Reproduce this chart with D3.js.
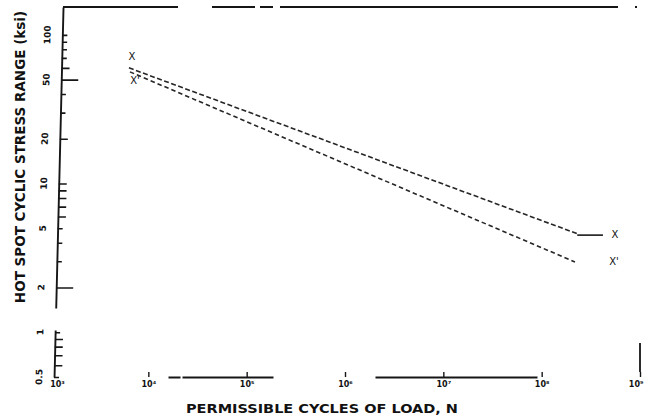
<!DOCTYPE html>
<html><head><meta charset="utf-8">
<script src="https://cdn.jsdelivr.net/npm/d3@7"></script>
<style>
html,body{margin:0;padding:0;background:#fff;}
svg{display:block;}
text{font-family:"DejaVu Sans","DejaVu Sans Condensed",sans-serif;fill:#111;}
</style></head><body>
<svg id="chart" width="645" height="420"></svg>
<script>
// S-N curves: permissible cycles N vs hot spot stress range (ksi)
const curveNames = ["X", "X'"];
const xCurveN = [6.35e3, 2.3e8];
const xCurveS = [60, 4.6];
const xEnduranceN = [2.3e8, 4.2e8];
const xEnduranceS = [4.5, 4.5];
const xPrimeN = [6.5e3, 2.18e8];
const xPrimeS = [56.4, 2.97];
const xTickExponents = [3, 4, 5, 6, 7, 8, 9];
const yTickValues = [100, 90, 80, 70, 60, 50, 40, 30, 20, 10, 9, 8, 7, 6, 5, 4, 3, 2, 1, 0.9, 0.8, 0.7, 0.6, 0.5];
const yTickLabels = ["100", "50", "20", "10", "5", "2", "1", "0.5"];
const xDomain = [1e3, 1e9];
const yDomain = [0.5, 154];

const svg = d3.select("#chart");
const x = d3.scaleLog().domain(xDomain).range([50, 640]);
const y = d3.scaleLog().domain(yDomain).range([377, 7]);
const ink = "#161616";

// frame pieces (scan has gaps)
svg.append("line").attr("x1", 63).attr("x2", x(xDomain[1])).attr("y1", y(yDomain[1])).attr("y2", y(yDomain[1]))
  .attr("stroke", ink).attr("stroke-width", 1.8)
  .attr("stroke-dasharray", "115,34,43,5,13,7,338,17,2,20");
svg.append("line").attr("x1", x(xDomain[1])).attr("x2", x(xDomain[1])).attr("y1", y(yDomain[0])).attr("y2", y(yDomain[1]))
  .attr("stroke", ink).attr("stroke-width", 1.8)
  .attr("stroke-dasharray", "0,5,29,400");

// y axis (slightly skewed like the scan)
const sup = {"0":"\u2070","1":"\u00b9","2":"\u00b2","3":"\u00b3","4":"\u2074","5":"\u2075","6":"\u2076","7":"\u2077","8":"\u2078","9":"\u2079"};
const yAxisG = svg.append("g").attr("transform", "translate(63.2,0) skewX(-1.39)");
yAxisG.call(d3.axisRight(y).tickValues(yTickValues).tickSizeOuter(0).tickFormat(""));
yAxisG.select(".domain").attr("stroke", ink).attr("stroke-width", 1.9).attr("stroke-dasharray", "47,22,400");
const longT = new Set([50, 2]);
const medT = new Set([60, 20, 10, 9, 8, 7, 6, 0.9, 0.8, 0.7, 0.6]);
yAxisG.selectAll(".tick line").attr("stroke", ink).attr("stroke-width", 1.6)
  .attr("x2", d => longT.has(d) ? 17 : medT.has(d) ? 8 : 5);
yAxisG.selectAll(".ylab").data(yTickLabels).enter().append("text")
  .attr("class", "ylab")
  .attr("transform", d => `translate(-15,${y(+d)}) rotate(-90)`)
  .attr("dy", "0.35em").attr("text-anchor", "middle")
  .attr("font-size", 9).attr("font-weight", "bold").text(d => d);

// x axis
const xAxisG = svg.append("g").attr("transform", `translate(0,${y(yDomain[0])})`);
xAxisG.call(d3.axisBottom(x).tickValues(xTickExponents.map(e => Math.pow(10, e)))
  .tickSizeInner(-5).tickSizeOuter(0).tickPadding(4)
  .tickFormat(d => "10" + String(Math.round(Math.log10(d))).split("").map(c => sup[c]).join("")));
xAxisG.select(".domain").attr("stroke", ink).attr("stroke-width", 1.8)
  .attr("stroke-dasharray", "0,118,12,2,91,102,162,300");
xAxisG.selectAll(".tick line").attr("stroke", ink).attr("stroke-width", 1.4);
xAxisG.selectAll(".tick text").attr("font-size", 8).attr("font-weight", "bold").attr("fill", ink)
  .attr("font-family", "DejaVu Sans");
const nT = xTickExponents.length;
xAxisG.selectAll(".tick").filter((d, i) => i === 0).select("line").remove();
xAxisG.selectAll(".tick").filter((d, i) => i === 0).select("text").attr("dx", 7);
xAxisG.selectAll(".tick").filter((d, i) => i === nT - 1).select("text").attr("text-anchor", "end").attr("dx", 3);

// curves
const line = d3.line().x(d => x(d[0])).y(d => y(d[1]));
const ptsX = xCurveN.map((n, i) => [n, xCurveS[i]]);
const ptsE = xEnduranceN.map((n, i) => [n, xEnduranceS[i]]);
const ptsP = xPrimeN.map((n, i) => [n, xPrimeS[i]]);
svg.append("path").attr("d", line(ptsX)).attr("fill", "none").attr("stroke", "#262626")
  .attr("stroke-width", 1.6).attr("stroke-dasharray", "5,2.5");
svg.append("path").attr("d", line(ptsE)).attr("fill", "none").attr("stroke", "#262626")
  .attr("stroke-width", 1.7);
svg.append("path").attr("d", line(ptsP)).attr("fill", "none").attr("stroke", "#262626")
  .attr("stroke-width", 1.6).attr("stroke-dasharray", "4.5,3");

// curve labels
const lab = (tx, ty, t) => svg.append("text").attr("x", tx).attr("y", ty).attr("font-size", 10)
  .attr("text-anchor", "middle").attr("dominant-baseline", "middle").text(t);
lab(x(xCurveN[0]) + 3, y(xCurveS[0]) - 11, curveNames[0]);
lab(x(xPrimeN[0]) + 5, y(xPrimeS[0]) + 9, curveNames[1]);
lab(x(xEnduranceN[1]) + 12, y(xEnduranceS[1]), curveNames[0]);
lab(x(xPrimeN[1]) + 39, y(xPrimeS[1]), curveNames[1]);

// titles
svg.append("text").attr("x", 186).attr("y", 413).attr("font-size", 12).attr("font-weight", "bold")
  .attr("textLength", 272).attr("lengthAdjust", "spacingAndGlyphs")
  .text("PERMISSIBLE CYCLES OF LOAD, N");
svg.append("text").attr("transform", "translate(25,157) rotate(-90)").attr("text-anchor", "middle")
  .attr("font-family", "DejaVu Sans Condensed")
  .attr("font-size", 13.5).attr("font-weight", "bold").attr("fill", "#222")
  .text("HOT SPOT CYCLIC STRESS RANGE (ksi)");
</script>
</body></html>
